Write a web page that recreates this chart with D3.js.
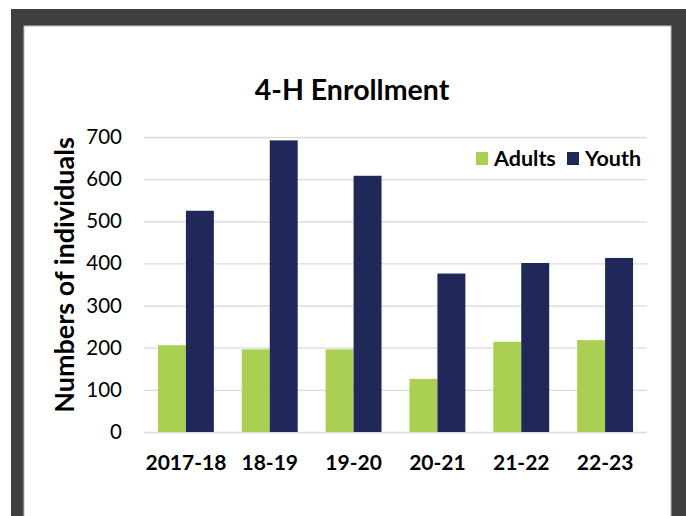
<!DOCTYPE html>
<html lang="en">
<head>
  <meta charset="UTF-8">
  <title>4-H Enrollment</title>
  <style>
    body { margin: 0; background: #fff; }
    svg text { font-family: Lato, "Open Sans", sans-serif; fill: #000; }
  </style>
</head>
<body>
  <div id="chart"></div>
  <script src="https://cdnjs.cloudflare.com/ajax/libs/d3/7.8.5/d3.min.js"></script>
  <script>
    const years = ['2017-18', '18-19', '19-20', '20-21', '21-22', '22-23']
    const adults = [206, 196, 196, 126, 214, 218]
    const youth = [525, 692, 608, 376, 401, 413]
    const yTicks = [0, 100, 200, 300, 400, 500, 600, 700]
    const seriesNames = ['Adults', 'Youth']
    const colors = ['#a9d052', '#1f2859']

    const W = 686, H = 516
    const margin = { top: 137, right: 39, bottom: 84, left: 144 }
    const width = W - margin.left - margin.right
    const height = H - margin.top - margin.bottom

    const svg = d3.select('#chart').append('svg')
      .attr('width', W).attr('height', H)

    // dark frame with the white chart panel inside
    svg.append('rect').attr('x', 11).attr('y', 9).attr('width', W - 11).attr('height', H - 9)
      .attr('fill', '#404040')
    svg.append('rect').attr('x', 24).attr('y', 26).attr('width', 647).attr('height', H)
      .attr('fill', '#fff').attr('stroke', '#bfbfbf').attr('stroke-width', 1)

    const x = d3.scaleBand().domain(years).range([0, width])
    const xInner = d3.scaleBand().domain(seriesNames)
      .range([x.bandwidth() / 6, x.bandwidth() * 5 / 6])
    const y = d3.scaleLinear().domain([0, 700]).range([height, 0])

    const g = svg.append('g').attr('transform', `translate(${margin.left},${margin.top})`)

    // gridlines
    g.append('g')
      .call(d3.axisLeft(y).tickValues(yTicks).tickSize(-width).tickFormat(''))
      .call(a => a.select('.domain').remove())
      .call(a => a.selectAll('line').attr('stroke', '#d9d9d9').attr('stroke-width', 1.3))

    // bars
    const rows = years.map((yr, i) => ({ year: yr, values: [adults[i], youth[i]] }))
    g.selectAll('.grp').data(rows).join('g')
      .attr('transform', d => `translate(${x(d.year)},0)`)
      .selectAll('rect').data(d => d.values.map((v, j) => ({ name: seriesNames[j], v, j })))
      .join('rect')
      .attr('x', d => xInner(d.name))
      .attr('width', xInner.bandwidth())
      .attr('y', d => y(d.v))
      .attr('height', d => height - y(d.v))
      .attr('fill', d => colors[d.j])

    // y axis labels
    g.append('g')
      .call(d3.axisLeft(y).tickValues(yTicks).tickSize(0).tickPadding(22))
      .call(a => a.select('.domain').remove())
      .call(a => a.selectAll('text').attr('font-size', 20.5).style('font-family', 'Lato, sans-serif'))

    // x axis labels
    g.append('g').attr('transform', `translate(0,${height})`)
      .call(d3.axisBottom(x).tickSize(0).tickPadding(23))
      .call(a => a.select('.domain').remove())
      .call(a => a.selectAll('text').attr('font-size', 21).attr('font-weight', 'bold')
        .style('font-family', 'Lato, sans-serif'))

    // title
    svg.append('text').attr('x', 352).attr('y', 100)
      .attr('text-anchor', 'middle').attr('font-size', 28.5).attr('font-weight', 'bold')
      .text('4-H Enrollment')

    // y axis title
    svg.append('text')
      .attr('transform', 'translate(74,275) rotate(-90)')
      .attr('text-anchor', 'middle').attr('font-size', 27).attr('font-weight', 'bold')
      .text('Numbers of individuals')

    // legend
    const legend = svg.append('g')
    const legendX = [476, 567]
    seriesNames.forEach((name, i) => {
      legend.append('rect').attr('x', legendX[i]).attr('y', 152)
        .attr('width', 12).attr('height', 13).attr('fill', colors[i])
      legend.append('text').attr('x', legendX[i] + 18).attr('y', 166)
        .attr('font-size', 21.5).attr('font-weight', 'bold').text(name)
    })
  </script>
</body>
</html>
